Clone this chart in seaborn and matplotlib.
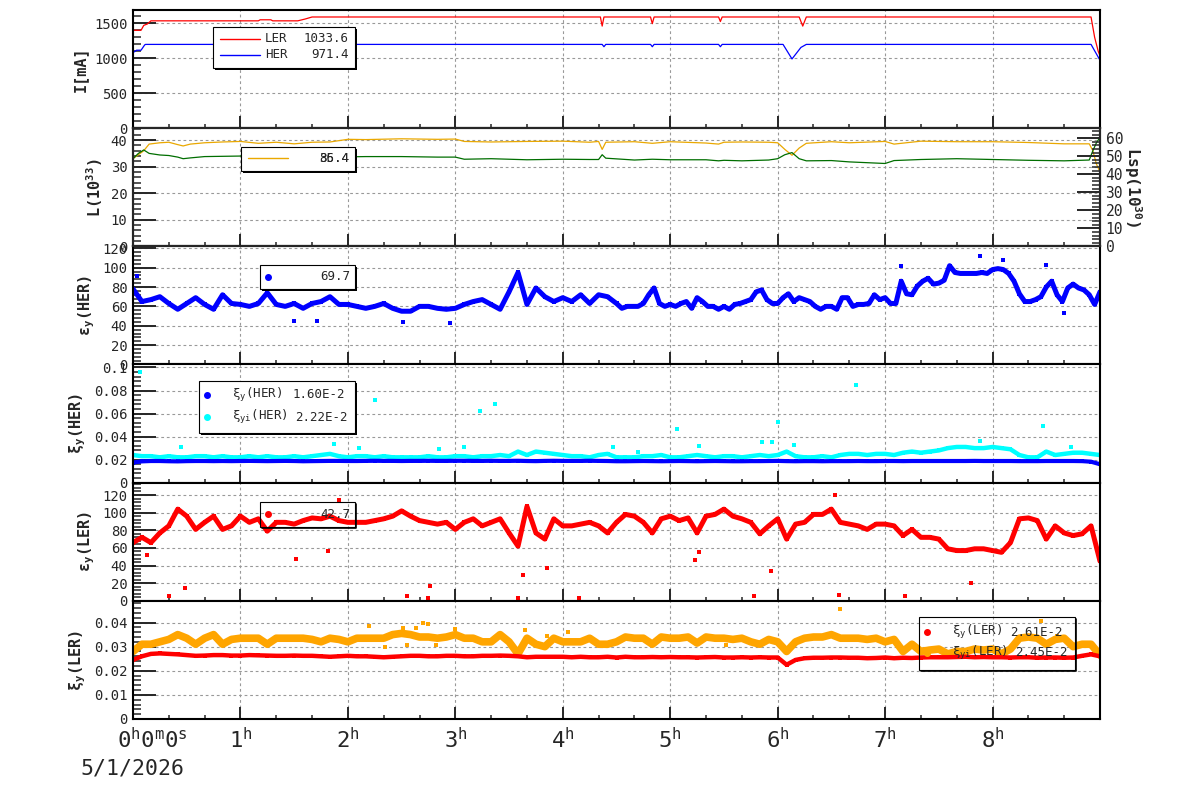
import numpy as np
import matplotlib
matplotlib.use("Agg")
import matplotlib.pyplot as plt
import matplotlib.transforms as mtransforms
import seaborn as sns
from matplotlib.patches import Rectangle
from matplotlib.lines import Line2D
from matplotlib.ticker import MultipleLocator, AutoMinorLocator, FuncFormatter, FixedLocator

sns.set_style("ticks")
plt.rcParams["font.family"] = ["DejaVu Sans Mono", "DejaVu Sans"]
plt.rcParams["mathtext.fontset"] = "dejavusans"

# ---- data (time in minutes from 0h) ----
# beam currents
ler_t = [0, 4.5, 6, 8, 10, 70, 71, 77, 78, 92, 96, 100, 261, 262, 263, 289, 290, 291,
         327, 328, 329, 372, 374, 376, 535, 537, 539, 540]
ler_i = [1400, 1400, 1470, 1490, 1535, 1535, 1550, 1550, 1535, 1535, 1560, 1590, 1590, 1460,
         1590, 1590, 1495, 1590, 1590, 1525, 1590, 1590, 1460, 1590, 1590, 1300, 1100, 1034]
her_t = [0, 2, 4.5, 6.5, 7, 262, 263, 264, 289, 290, 291, 327, 328, 329, 363, 368, 373, 376, 535, 540]
her_i = [1080, 1115, 1115, 1190, 1198, 1198, 1165, 1198, 1198, 1165, 1198, 1198, 1165, 1198,
         1198, 990, 1155, 1198, 1198, 971]

# luminosity
lum_t = [0, 3, 6, 9, 15, 20, 25, 28, 32, 40, 50, 60, 70, 80, 90, 100, 110, 120, 130, 150,
         170, 180, 185, 200, 220, 240, 255, 260, 262, 264, 280, 290, 300, 320, 327, 330, 340,
         355, 360, 364, 368, 372, 376, 390, 400, 420, 425, 440, 460, 480, 500, 520, 534, 536,
         538, 540]
lum_orange = [33, 34.5, 36, 38.5, 39, 39.2, 38.3, 37.8, 38.5, 39, 39.3, 39.5, 38.8, 39.2, 38.6,
              39.2, 39.3, 40.3, 40.2, 40.5, 40.3, 40.4, 39.5, 39.3, 39.5, 39.6, 39.2, 39.5, 36.5,
              39.2, 39.4, 38.8, 39.4, 38.9, 38.5, 39.2, 39.3, 39.2, 39.0, 36.5, 34.3, 37, 38.8,
              39.4, 39.0, 39.5, 38.5, 39.6, 39.4, 39.4, 39.1, 38.6, 38.6, 36, 31, 28]
lum_green = [33, 35, 36.3, 35, 34.4, 34.2, 33.6, 33, 33.3, 33.8, 33.9, 34, 33.5, 33.7, 33.5,
             33.2, 33.6, 33.7, 33.8, 33.8, 33.6, 33.6, 32.8, 33.0, 32.6, 32.8, 32.7, 32.7, 34.5,
             33.2, 32.5, 32.8, 32.6, 32.6, 32.2, 32.4, 32.2, 32.5, 33, 34.5, 35.3, 33, 32.2,
             32.3, 31.8, 31.2, 32.3, 32.7, 33, 32.7, 32.4, 32.2, 32.5, 36, 39, 41]

# emittance HER (5 min steps up to 265, then 3 min steps)
eps_her_t = np.concatenate([np.arange(0, 270, 5), np.arange(270, 543, 3)])
eps_her = [78, 65, 67, 70, 63, 57, 63, 69, 62, 57,
           72, 63, 62, 60, 63, 74, 62, 60, 63, 58,
           63, 65, 70, 62, 62, 60, 58, 60, 63, 58,
           55, 55, 60, 60, 58, 57, 58, 62, 65, 67,
           62, 57, 75, 95, 62, 79, 70, 65, 69, 65,
           72, 63, 72, 70,
           63, 58, 60, 60, 60, 63, 72, 79, 63, 60,
           62, 60, 63, 65, 58, 69, 65, 60, 60, 57,
           60, 57, 62, 63, 65, 67, 75, 77, 67, 63,
           63, 69, 73, 65, 69, 67, 65, 60, 57, 60,
           60, 57, 69, 69, 60, 62, 62, 63, 72, 67,
           69, 63, 63, 86, 73, 72, 81, 86, 89, 83,
           84, 87, 102, 95, 94, 94, 94, 94, 95, 94,
           98, 99, 98, 94, 86, 73, 65, 65, 67, 70,
           80, 86, 72, 65, 79, 83, 79, 77, 72, 62, 75]
eps_her_out_t = [2, 90, 103, 151, 177, 429, 473, 486, 510, 520]
eps_her_out = [91, 45, 45, 44, 43, 102, 112, 108, 103, 53]

# 5 minute samples for the other panels
t5 = np.arange(0, 545, 5)
xi_her = [0.0175, 0.0185, 0.0188, 0.0188, 0.0186, 0.0185, 0.0187, 0.0188, 0.0188, 0.0187,
          0.0188, 0.0187, 0.0188, 0.0189, 0.0188, 0.0187, 0.0188, 0.0189, 0.0188, 0.0186,
          0.0187, 0.0188, 0.0189, 0.0189, 0.0188, 0.0188, 0.0189, 0.0190, 0.0189, 0.0189,
          0.0188, 0.0189, 0.0189, 0.0190, 0.0189, 0.0189, 0.0190, 0.0190, 0.0189, 0.0189,
          0.0190, 0.0189, 0.0189, 0.0190, 0.0188, 0.0187, 0.0189, 0.0190, 0.0189, 0.0189,
          0.0189, 0.0190, 0.0189, 0.0188, 0.0186, 0.0186, 0.0187, 0.0188, 0.0187, 0.0186,
          0.0187, 0.0188, 0.0187, 0.0186, 0.0187, 0.0188, 0.0187, 0.0186, 0.0186, 0.0187,
          0.0187, 0.0188, 0.0189, 0.0187, 0.0186, 0.0187, 0.0187, 0.0186, 0.0187, 0.0187,
          0.0187, 0.0188, 0.0187, 0.0187, 0.0188, 0.0188, 0.0187, 0.0188, 0.0188, 0.0188,
          0.0188, 0.0188, 0.0188, 0.0188, 0.0189, 0.0188, 0.0188, 0.0188, 0.0188, 0.0187,
          0.0187, 0.0187, 0.0188, 0.0188, 0.0188, 0.0188, 0.0187, 0.0182, 0.0160]
xi_her_i = [0.024, 0.023, 0.023, 0.022, 0.023, 0.022, 0.022, 0.023, 0.023, 0.022,
            0.023, 0.022, 0.022, 0.023, 0.022, 0.023, 0.022, 0.022, 0.023, 0.022,
            0.023, 0.024, 0.025, 0.023, 0.022, 0.023, 0.023, 0.022, 0.023, 0.022,
            0.022, 0.022, 0.022, 0.023, 0.022, 0.022, 0.023, 0.023, 0.022, 0.023,
            0.023, 0.024, 0.023, 0.027, 0.024, 0.027, 0.026, 0.025, 0.024, 0.023,
            0.023, 0.022, 0.024, 0.025,
            0.022, 0.022, 0.022, 0.023, 0.023, 0.024, 0.022, 0.022, 0.023, 0.024,
            0.023, 0.022, 0.023, 0.023, 0.022, 0.023, 0.024, 0.023, 0.024, 0.027,
            0.023, 0.022, 0.022, 0.023, 0.022, 0.024, 0.025, 0.025, 0.024, 0.025,
            0.025, 0.024, 0.026, 0.027, 0.026, 0.027, 0.028, 0.030, 0.031, 0.031,
            0.030, 0.030, 0.031, 0.030, 0.029, 0.024, 0.022, 0.022, 0.027, 0.024,
            0.025, 0.026, 0.026, 0.025, 0.024]
xi_her_i_out_t = [4, 27, 86, 112, 126, 135, 171, 185, 194, 202, 268, 282, 304, 316, 351, 357,
                  360, 369, 404, 473, 508, 524]
xi_her_i_out = [0.096, 0.031, 0.0635, 0.034, 0.030, 0.072, 0.029, 0.031, 0.062, 0.068, 0.031,
                0.027, 0.047, 0.032, 0.035, 0.035, 0.053, 0.033, 0.085, 0.036, 0.049, 0.031]

eps_ler = [66, 72, 66, 77, 85, 104, 96, 81, 89, 96,
           81, 85, 96, 89, 93, 79, 89, 89, 87, 91,
           94, 93, 96, 91, 89, 89, 89, 91, 93, 96,
           102, 96, 91, 89, 87, 89, 81, 89, 93, 85,
           89, 93, 77, 62, 107, 77, 70, 93, 85, 85,
           87, 89, 85, 77, 89, 98, 96, 89, 77, 93,
           96, 91, 94, 77, 96, 98, 104, 96, 93, 89,
           76, 85, 93, 70, 87, 89, 98, 98, 104, 89,
           87, 85, 81, 87, 87, 85, 74, 81, 72, 72,
           70, 59, 57, 57, 59, 59, 57, 55, 66, 93,
           94, 91, 70, 85, 77, 74, 76, 85, 45]
eps_ler_out_t = [8, 20, 29, 91, 109, 115, 153, 165, 166, 215, 218, 231, 249, 314, 316, 347, 356,
                 392, 394, 431, 468]
eps_ler_out = [52, 6, 15, 48, 57, 114, 6, 3, 17, 3, 29, 37, 3, 46, 55, 6, 34, 120, 7, 6, 20]

xi_ler = [0.0245, 0.026, 0.027, 0.0272, 0.027, 0.0268, 0.0265, 0.0262, 0.0263, 0.0265,
          0.0265, 0.0263, 0.0263, 0.0265, 0.0264, 0.0263, 0.0262, 0.0262, 0.0263, 0.0262,
          0.0262, 0.026, 0.0258, 0.026, 0.0262, 0.026, 0.026, 0.0258, 0.0256, 0.0258,
          0.026, 0.0262, 0.0262, 0.026, 0.026, 0.0262, 0.0262, 0.026, 0.026, 0.0262,
          0.0262, 0.0263, 0.0262, 0.026, 0.0256, 0.0258, 0.0258, 0.0258, 0.0258, 0.0256,
          0.0258, 0.0256, 0.0256, 0.0258, 0.0255, 0.0258, 0.0256, 0.0256, 0.0257, 0.0256,
          0.0257, 0.0256, 0.0256, 0.0255, 0.0256, 0.0257, 0.0255, 0.0255, 0.0256, 0.0255,
          0.0256, 0.0255, 0.0255, 0.0225, 0.0245, 0.0252, 0.0254, 0.0254, 0.0255, 0.0255,
          0.0254, 0.0254, 0.0252, 0.0253, 0.0255, 0.0252, 0.0254, 0.0253, 0.0255, 0.0256,
          0.0256, 0.0256, 0.0257, 0.0258, 0.0256, 0.0257, 0.0256, 0.0256, 0.0255, 0.0256,
          0.0256, 0.0254, 0.0255, 0.0255, 0.0254, 0.0255, 0.0262, 0.0268, 0.026]
xi_ler_i = [0.028, 0.031, 0.031, 0.032, 0.033, 0.035, 0.0335, 0.031, 0.0335, 0.035,
            0.031, 0.033, 0.0335, 0.0335, 0.0335, 0.031, 0.0335, 0.0335, 0.0335, 0.0335,
            0.033, 0.032, 0.0335, 0.033, 0.032, 0.0335, 0.0335, 0.0335, 0.0335, 0.035,
            0.0355, 0.035, 0.034, 0.034, 0.0335, 0.034, 0.035, 0.0335, 0.0335, 0.032,
            0.032, 0.035, 0.032, 0.027, 0.0335, 0.031, 0.030, 0.0335, 0.032, 0.032,
            0.032, 0.0335, 0.031, 0.031, 0.032, 0.034, 0.0335, 0.0335, 0.031, 0.034,
            0.0335, 0.0335, 0.034, 0.0315, 0.034, 0.0335, 0.0335, 0.033, 0.0335, 0.032,
            0.031, 0.033, 0.032, 0.028, 0.032, 0.0335, 0.034, 0.034, 0.035, 0.0335,
            0.0335, 0.0335, 0.033, 0.0335, 0.032, 0.033, 0.028, 0.031, 0.028, 0.0286,
            0.029, 0.027, 0.028, 0.028, 0.029, 0.0286, 0.029, 0.027, 0.029, 0.0335,
            0.034, 0.0335, 0.031, 0.033, 0.0335, 0.030, 0.031, 0.031, 0.0265]
xi_ler_i_out_t = [132, 151, 158, 162, 165, 141, 153, 169, 231, 243, 180, 219, 395, 507, 516, 331]
xi_ler_i_out = [0.0386, 0.0376, 0.0376, 0.040, 0.0394, 0.0297, 0.0307, 0.0307, 0.0344, 0.036,
                0.0375, 0.037, 0.0457, 0.0407, 0.0344, 0.0307]

hour_labels = ["0$^\\mathregular{h}$0$^\\mathregular{m}$0$^\\mathregular{s}$"] + \
              [f"{h}$^\\mathregular{{h}}$" for h in range(1, 9)]

W, H = 1200, 798
fig = plt.figure(figsize=(12, 7.98), dpi=100)
gs = fig.add_gridspec(6, 1, left=133 / W, right=1100 / W, top=1 - 10 / H, bottom=1 - 719 / H, hspace=0)
axes = [fig.add_subplot(gs[i]) for i in range(6)]

RED, BLUE, CYAN, ORANGE = "#ff0000", "#0000ff", "#00ffff", "#ffa500"
LUM_ORANGE, LUM_GREEN = "#eaa800", "#006e00"


def hrs(t):
    return np.asarray(t, dtype=float) / 60.0


def style(ax, ymax, major):
    ax.set_xlim(0, 9)
    ax.set_ylim(0, ymax)
    ax.xaxis.set_major_locator(FixedLocator(range(9)))
    ax.xaxis.set_minor_locator(MultipleLocator(1 / 3))
    ax.yaxis.set_major_locator(MultipleLocator(major))
    ax.yaxis.set_minor_locator(AutoMinorLocator(5))
    ax.yaxis.set_major_formatter(FuncFormatter(lambda v, p: f"{v:g}"))
    ax.tick_params(axis="x", which="major", direction="in", length=8.6, width=1.4, top=False, labelbottom=False)
    ax.tick_params(axis="x", which="minor", direction="in", length=3, width=1.1, top=False)
    ax.tick_params(axis="y", which="major", direction="in", length=16.5, width=1.4, right=False,
                   labelsize=10, pad=4)
    ax.tick_params(axis="y", which="minor", direction="in", length=5.8, width=1.1, right=False)
    ax.grid(True, which="major", ls=(0, (2.5, 2.5)), color="#999999", lw=0.8)
    for s in ax.spines.values():
        s.set_linewidth(1.5)
        s.set_color("black")


def band(ax, t, v, color, lw, s):
    sns.lineplot(x=hrs(t), y=v, ax=ax, color=color, lw=lw, estimator=None, sort=False, legend=False)
    sns.scatterplot(x=hrs(t), y=v, ax=ax, color=color, marker="s", s=s, linewidth=0, legend=False)


def dots(ax, t, v, color):
    sns.scatterplot(x=hrs(t), y=v, ax=ax, color=color, marker="s", s=9, linewidth=0, legend=False)


# panel 1: currents
ax = axes[0]
sns.lineplot(x=hrs(ler_t), y=ler_i, ax=ax, color=RED, lw=0.9, estimator=None, sort=False)
sns.lineplot(x=hrs(her_t), y=her_i, ax=ax, color=BLUE, lw=0.9, estimator=None, sort=False)
style(ax, 1690, 500)
ax.set_ylabel("I[mA]", fontsize=11, fontweight="bold")

# panel 2: luminosity
ax = axes[1]
sns.lineplot(x=hrs(lum_t), y=lum_orange, ax=ax, color=LUM_ORANGE, lw=0.9, estimator=None, sort=False)
sns.lineplot(x=hrs(lum_t), y=lum_green, ax=ax, color=LUM_GREEN, lw=0.9, estimator=None, sort=False)
style(ax, 44.5, 10)
ax.set_ylabel("L(10$^{\\mathregular{33}}$)", fontsize=11, fontweight="bold")
ax2 = ax.twinx()
ax2.set_ylim(0, 65.6)
ax2.yaxis.set_major_locator(MultipleLocator(10))
ax2.yaxis.set_minor_locator(AutoMinorLocator(5))
ax2.tick_params(axis="y", which="major", direction="in", length=16.5, width=1.4, labelsize=10.5, pad=4)
ax2.tick_params(axis="y", which="minor", direction="in", length=5.8, width=1.1)
ax2.set_ylabel("Lsp(10$^{\\mathregular{30}}$)", fontsize=11.5, fontweight="bold", rotation=270, labelpad=15)
for s in ax2.spines.values():
    s.set_linewidth(1.5)

# panel 3: HER emittance
ax = axes[2]
band(ax, eps_her_t, eps_her, BLUE, 3.6, 12)
dots(ax, eps_her_out_t, eps_her_out, BLUE)
style(ax, 122, 20)
ax.set_ylabel("ε$_\\mathregular{y}$(HER)", fontsize=11, fontweight="bold")

# panel 4: HER beam-beam
ax = axes[3]
band(ax, t5, xi_her_i, CYAN, 3.2, 9)
dots(ax, xi_her_i_out_t, xi_her_i_out, CYAN)
band(ax, t5, xi_her, BLUE, 3.0, 9)
style(ax, 0.1026, 0.02)
ax.set_ylabel("ξ$_\\mathregular{y}$(HER)", fontsize=11, fontweight="bold")

# panel 5: LER emittance
ax = axes[4]
band(ax, t5, eps_ler, RED, 3.6, 12)
dots(ax, eps_ler_out_t, eps_ler_out, RED)
style(ax, 134, 20)
ax.set_ylabel("ε$_\\mathregular{y}$(LER)", fontsize=11, fontweight="bold")

# panel 6: LER beam-beam
ax = axes[5]
band(ax, t5, xi_ler_i, ORANGE, 5.5, 12)
dots(ax, xi_ler_i_out_t, xi_ler_i_out, ORANGE)
band(ax, t5, xi_ler, RED, 3.2, 9)
style(ax, 0.049, 0.01)
ax.set_ylabel("ξ$_\\mathregular{y}$(LER)", fontsize=11, fontweight="bold")
ax.tick_params(axis="x", which="major", labelbottom=True, labelsize=16, pad=6)
ax.set_xticklabels(hour_labels)
# the first (full time) label sits a bit to the right of its tick, as in ROOT
first = ax.get_xticklabels()[0]
first.set_transform(first.get_transform() + mtransforms.ScaledTranslation(19 / 100, 0, fig.dpi_scale_trans))

fig.text(80 / W, 1 - 768 / H, "5/1/2026", fontsize=15.5, va="center", ha="left")


# ---- ROOT style legend boxes ----
def fxy(x, y):
    return x / W, 1 - y / H


def legend_box(x0, y0, x1, y1, filled=True):
    w, h = (x1 - x0) / W, (y1 - y0) / H
    if filled:
        fig.add_artist(Rectangle(fxy(x0 + 2, y1 + 2), w, h, transform=fig.transFigure,
                                 facecolor="black", edgecolor="none", zorder=5))
        fig.add_artist(Rectangle(fxy(x0, y1), w, h, transform=fig.transFigure,
                                 facecolor="white", edgecolor="black", lw=0.8, zorder=6))
    else:
        fig.add_artist(Rectangle(fxy(x0, y1), w, h, transform=fig.transFigure,
                                 facecolor="none", edgecolor="black", lw=0.8, zorder=6))
        xs, ys = zip(fxy(x0 + 2, y1 + 1.2), fxy(x1 + 1.2, y1 + 1.2), fxy(x1 + 1.2, y0 + 2))
        fig.add_artist(Line2D(xs, ys, transform=fig.transFigure, color="black", lw=1.2, zorder=6))


def leg_text(x, y, s, ha="left"):
    fig.text(*fxy(x, y), s, ha=ha, va="center", fontsize=9, zorder=7)


def leg_line(x0, x1, y, color):
    fig.add_artist(Line2D([x0 / W, x1 / W], [1 - y / H] * 2, transform=fig.transFigure,
                          color=color, lw=1, zorder=7))


def leg_dot(x, y, color):
    fig.add_artist(Line2D([x / W], [1 - y / H], transform=fig.transFigure, marker="o", ms=4,
                          color=color, ls="none", zorder=7))


legend_box(213, 27, 355, 68)
leg_line(220, 260, 39, RED)
leg_text(265, 39, "LER")
leg_text(349, 39, "1033.6", "right")
leg_line(220, 260, 55, BLUE)
leg_text(265, 55, "HER")
leg_text(349, 55, "971.4", "right")

legend_box(241, 147, 355, 171)
leg_line(248, 288, 158, LUM_ORANGE)
leg_text(349, 159, "86.4", "right")
leg_text(349, 159, "35.4", "right")

legend_box(260, 265, 355, 289)
leg_dot(268, 277, BLUE)
leg_text(350, 277, "69.7", "right")

legend_box(199, 381, 355, 433)
leg_dot(207, 395, BLUE)
leg_text(232, 395, "ξ$_\\mathregular{y}$(HER)")
leg_text(345, 395, "1.60E-2", "right")
leg_dot(207, 417, CYAN)
leg_text(232, 417, "ξ$_\\mathregular{yi}$(HER)")
leg_text(348, 417, "2.22E-2", "right")

legend_box(260, 502, 355, 527, filled=False)
leg_dot(268, 514, RED)
leg_text(350, 514, "42.7", "right")

legend_box(919, 617, 1075, 670, filled=False)
leg_dot(927, 632, RED)
leg_text(952, 632, "ξ$_\\mathregular{y}$(LER)")
leg_text(1063, 632, "2.61E-2", "right")
leg_dot(927, 653, ORANGE)
leg_text(952, 653, "ξ$_\\mathregular{yi}$(LER)")
leg_text(1068, 653, "2.45E-2", "right")

fig.savefig("out.png", dpi=100)
